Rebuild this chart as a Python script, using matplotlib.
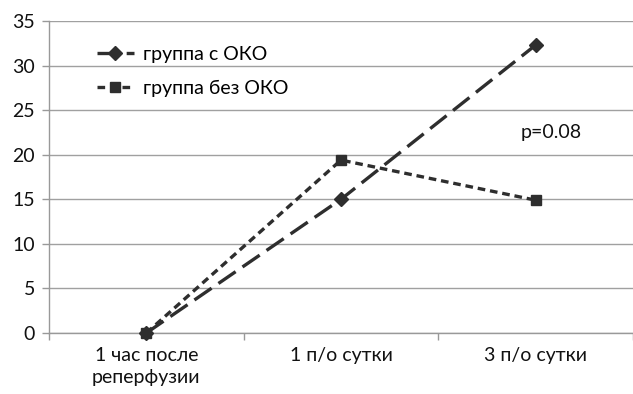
import matplotlib
matplotlib.use("Agg")
import matplotlib.pyplot as plt

categories = ["1 час после\nреперфузии", "1 п/о сутки", "3 п/о сутки"]
with_oko = [0.0, 15.0, 32.3]
without_oko = [0.0, 19.4, 14.9]
series_labels = ["группа с ОКО", "группа без ОКО"]
yticks = [0, 5, 10, 15, 20, 25, 30, 35]
p_text = "p=0.08"

plt.rcParams['font.family'] = ['Lato', 'DejaVu Sans']
plt.rcParams['lines.scale_dashes'] = False

fs = 14
fig = plt.figure(figsize=(6.33, 3.94), dpi=100)
ax = fig.add_axes([0.0774, 0.1548, 0.9226, 0.7919])

x = list(range(len(categories)))
col = '#2e2e2e'
ax.plot(x, with_oko, color=col, lw=2.4, dashes=(15, 6), marker='D', ms=7,
        mfc=col, mec=col, clip_on=False, zorder=4, label=series_labels[0])
ax.plot(x, without_oko, color=col, lw=2.4, dashes=(5.5, 3.5), marker='s', ms=7.5,
        mfc=col, mec=col, clip_on=False, zorder=4, label=series_labels[1])

ax.set_xlim(-0.5, 2.5)
ax.set_ylim(0, 35)
ax.set_yticks(yticks)
ax.set_xticks(x)
ax.set_xticklabels(categories, fontsize=fs, color='#111111', linespacing=1.35)
ax.tick_params(axis='x', length=0, pad=10)
ax.set_xticks([-0.5, 0.5, 1.5, 2.5], minor=True)
ax.tick_params(axis='x', which='minor', length=5, color='#999999', width=1)
ax.tick_params(axis='y', length=5, color='#999999', width=1, labelsize=fs,
               labelcolor='#111111', pad=5)
ax.grid(axis='y', color='#a0a0a0', lw=1)
ax.set_axisbelow(True)
for s in ['top', 'right']:
    ax.spines[s].set_visible(False)
for s in ['left', 'bottom']:
    ax.spines[s].set_color('#999999')
    ax.spines[s].set_linewidth(1)

ax.text(2.08, 22.5, p_text, fontsize=fs, ha='center', va='center', color='#111111')

ax.legend(loc='upper left', bbox_to_anchor=(0.082, 0.92), frameon=False,
          fontsize=fs, handlelength=1.9, handletextpad=0.45, labelspacing=0.85,
          borderpad=0, borderaxespad=0)

fig.savefig("out.png", dpi=100)
